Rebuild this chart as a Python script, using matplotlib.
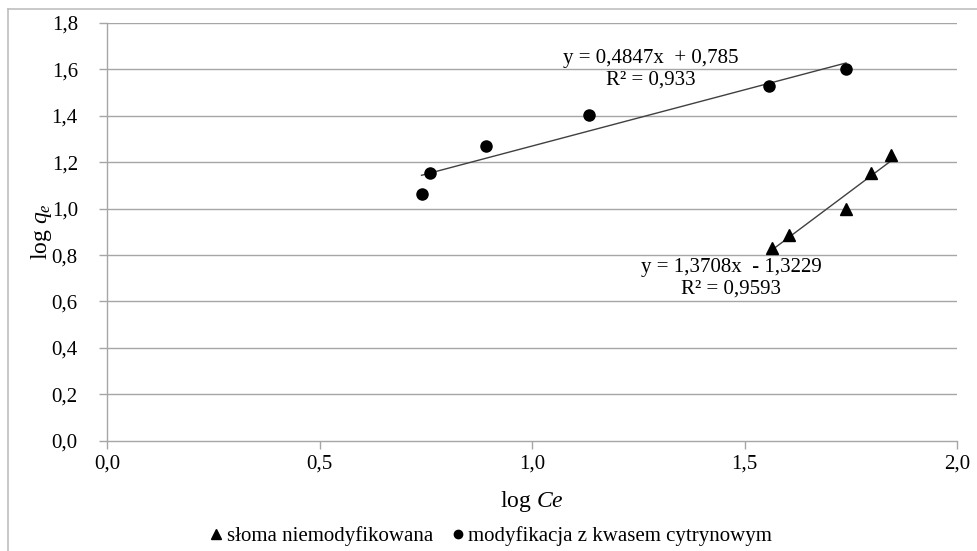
import numpy as np
import matplotlib.pyplot as plt
from matplotlib.lines import Line2D

plt.rcParams['font.family'] = ['Liberation Serif', 'DejaVu Serif']
plt.rcParams['mathtext.fontset'] = 'custom'
plt.rcParams['mathtext.rm'] = 'Liberation Serif'
plt.rcParams['mathtext.it'] = 'Liberation Serif:italic'

# słoma niemodyfikowana (triangles)
x_tri = [1.564, 1.605, 1.739, 1.797, 1.844]
y_tri = [0.829, 0.886, 0.997, 1.152, 1.231]
fit_tri = (1.3708, -1.3229)
lbl_tri = "y = 1,3708x  - 1,3229\nR² = 0,9593"

# modyfikacja z kwasem cytrynowym (circles)
x_circ = [0.740, 0.760, 0.891, 1.133, 1.557, 1.739]
y_circ = [1.063, 1.155, 1.269, 1.403, 1.528, 1.601]
fit_circ = (0.4847, 0.785)
lbl_circ = "y = 0,4847x  + 0,785\nR² = 0,933"

x_ticks = [0.0, 0.5, 1.0, 1.5, 2.0]
y_ticks = np.arange(0, 1.81, 0.2)

fig = plt.figure(figsize=(9.77, 5.51), dpi=100)
ax = fig.add_axes([107 / 977, 1 - 440.7 / 551, 850 / 977, 417.7 / 551])

grid_c = '#a6a6a6'
for yt in y_ticks[1:]:
    ax.axhline(yt, color=grid_c, lw=1.0, zorder=1)

# trendlines
for xs, (a, b) in [(x_circ, fit_circ), (x_tri, fit_tri)]:
    xx = np.array([min(xs), max(xs)])
    ax.plot(xx, a * xx + b, color='#404040', lw=1.0, zorder=2)

ax.plot(x_tri, y_tri, '^', color='black', ms=9, zorder=3)
ax.plot(x_circ, y_circ, 'o', color='black', ms=8, zorder=3)

ax.text(1.28, 1.60, lbl_circ, ha='center', va='center', fontsize=15, linespacing=1.15)
ax.text(1.468, 0.70, lbl_tri, ha='center', va='center', fontsize=15, linespacing=1.15)

ax.set_xlim(0, 2.0)
ax.set_ylim(0, 1.8)
ax.set_xticks(x_ticks)
ax.set_yticks(y_ticks)
ax.set_xticklabels([f"{v:.1f}".replace('.', ',') for v in x_ticks], fontsize=15)
ax.set_yticklabels([f"{v:.1f}".replace('.', ',') for v in y_ticks], fontsize=15)
ax.tick_params(axis='both', direction='out', length=6, color=grid_c, width=1.0)
ax.tick_params(axis='x', pad=4)
ax.tick_params(axis='y', pad=15)
for s in ['top', 'right']:
    ax.spines[s].set_visible(False)
for s in ['left', 'bottom']:
    ax.spines[s].set_color(grid_c)
    ax.spines[s].set_linewidth(1.0)

ax.set_xlabel(r"log $\it{Ce}$", fontsize=17, labelpad=11)
ax.set_ylabel(r"log $\it{q_e}$", fontsize=17, labelpad=-2)

handles = [Line2D([], [], marker='^', ls='none', color='black', ms=7),
           Line2D([], [], marker='o', ls='none', color='black', ms=6)]
fig.legend(handles, ["słoma niemodyfikowana", "modyfikacja z kwasem cytrynowym"],
           loc='center', bbox_to_anchor=(490 / 977, 1 - 536 / 551), ncol=2,
           frameon=False, fontsize=15, handletextpad=0.1, columnspacing=0.8,
           handlelength=0.8)

# outer chart border (top and left visible)
fig.add_artist(Line2D([8 / 977, 8 / 977], [0, 1 - 9 / 551], color='#bfbfbf', lw=1.2, transform=fig.transFigure))
fig.add_artist(Line2D([8 / 977, 1], [1 - 9 / 551, 1 - 9 / 551], color='#bfbfbf', lw=1.2, transform=fig.transFigure))

fig.savefig('out.png', dpi=100)
